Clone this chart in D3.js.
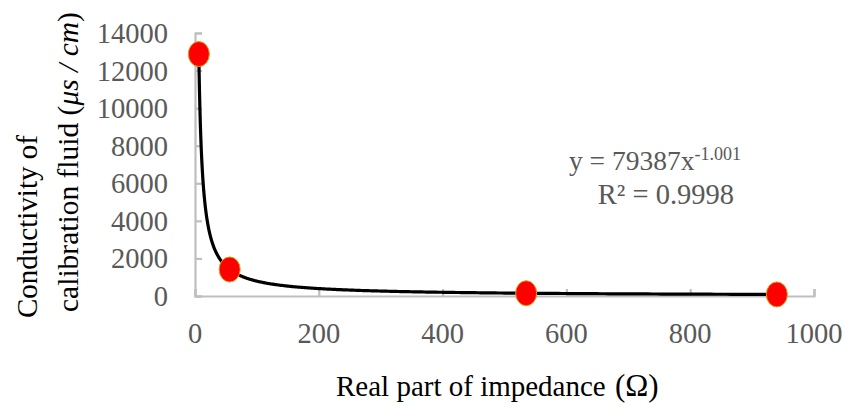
<!DOCTYPE html>
<html>
<head>
<meta charset="utf-8">
<script src="https://cdn.jsdelivr.net/npm/d3@7"></script>
<style>
  body { margin: 0; background: #fff; }
  svg text { font-family: "Liberation Serif", "Times New Roman", serif; }
</style>
</head>
<body>
<div id="chart"></div>
<script>
// calibration points: real part of impedance (ohm) vs conductivity (us/cm)
var impedance = [6.2, 56, 535, 940];
var conductivity = [12880, 1413, 147, 84];

// power trendline shown on the chart: y = 79387 x^-1.001
var trendCoef = 79387;
var trendExp = -1.001;

var xTicks = [0, 200, 400, 600, 800, 1000];
var yTicks = [0, 2000, 4000, 6000, 8000, 10000, 12000, 14000];

var width = 845, height = 410;

var svg = d3.select("#chart")
    .append("svg")
    .attr("width", width)
    .attr("height", height);

var x = d3.scaleLinear().domain([0, 1000]).range([195, 814]);
var y = d3.scaleLinear().domain([0, 14000]).range([296, 33]);

var axisColor = "#bfbfbf";
var labelColor = "#595959";

// y axis (ticks pointing inside)
var gy = svg.append("g")
    .attr("transform", "translate(" + x(0) + ",0)")
    .call(d3.axisRight(y).tickValues(yTicks).tickSize(7).tickSizeOuter(7).tickFormat(""));
gy.selectAll(".tick text").remove();

// x axis (ticks pointing up)
var gx = svg.append("g")
    .attr("transform", "translate(0," + y(0) + ")")
    .call(d3.axisTop(x).tickValues(xTicks).tickSize(7).tickSizeOuter(7).tickFormat(""));
gx.selectAll(".tick text").remove();

svg.selectAll(".domain, .tick line")
    .attr("stroke", axisColor)
    .attr("stroke-width", 2.2);

// tick labels
svg.selectAll(".ylab")
    .data(yTicks)
    .enter()
    .append("text")
    .attr("x", 168)
    .attr("y", function (d) { return y(d); })
    .attr("dy", "0.35em")
    .attr("text-anchor", "end")
    .style("font-size", "28.5px")
    .style("fill", labelColor)
    .text(function (d) { return d; });

svg.selectAll(".xlab")
    .data(xTicks)
    .enter()
    .append("text")
    .attr("x", function (d) { return x(d); })
    .attr("y", 343)
    .attr("text-anchor", "middle")
    .style("font-size", "28.5px")
    .style("fill", labelColor)
    .text(function (d) { return d; });

// trendline
var trendX = d3.range(Math.log(impedance[0]), Math.log(impedance[3]), 0.01)
    .map(function (v) { return Math.exp(v); })
    .concat([impedance[3]]);
var line = d3.line()
    .x(function (d) { return x(d); })
    .y(function (d) { return y(trendCoef * Math.pow(d, trendExp)); });

svg.append("path")
    .datum(trendX)
    .attr("d", line)
    .attr("fill", "none")
    .attr("stroke", "#000")
    .attr("stroke-width", 3.2);

// data points
svg.selectAll(".pt")
    .data(impedance)
    .enter()
    .append("ellipse")
    .attr("cx", function (d) { return x(d); })
    .attr("cy", function (d, i) { return y(conductivity[i]); })
    .attr("rx", 10.5)
    .attr("ry", 12.5)
    .attr("fill", "#ff0000")
    .attr("stroke", "#d4a017")
    .attr("stroke-width", 1);

// trendline equation
var eq = svg.append("text")
    .attr("x", 655)
    .attr("y", 170)
    .attr("text-anchor", "middle")
    .style("font-size", "27.5px")
    .style("fill", labelColor);
eq.append("tspan").text("y = 79387x");
eq.append("tspan")
    .attr("dy", -10)
    .style("font-size", "18px")
    .text("-1.001");

svg.append("text")
    .attr("x", 666)
    .attr("y", 204)
    .attr("text-anchor", "middle")
    .style("font-size", "28.5px")
    .style("fill", labelColor)
    .text("R² = 0.9998");

// axis titles
var xt = svg.append("text")
    .attr("x", 336)
    .attr("y", 396)
    .style("font-size", "29px")
    .style("fill", "#000");
xt.append("tspan").text("Real part of impedance ");
xt.append("tspan")
    .attr("dx", 2)
    .style("font-size", "31px")
    .text("(Ω)");

svg.append("text")
    .attr("transform", "translate(37,318) rotate(-90)")
    .style("font-size", "29px")
    .style("fill", "#000")
    .text("Conductivity of");

var yt = svg.append("text")
    .attr("transform", "translate(78,312) rotate(-90)")
    .style("font-size", "29.5px")
    .style("fill", "#000");
yt.append("tspan").text("calibration fluid ");
yt.append("tspan").text("(");
yt.append("tspan").style("font-style", "italic").text("μs / cm");
yt.append("tspan").text(")");
</script>
</body>
</html>
